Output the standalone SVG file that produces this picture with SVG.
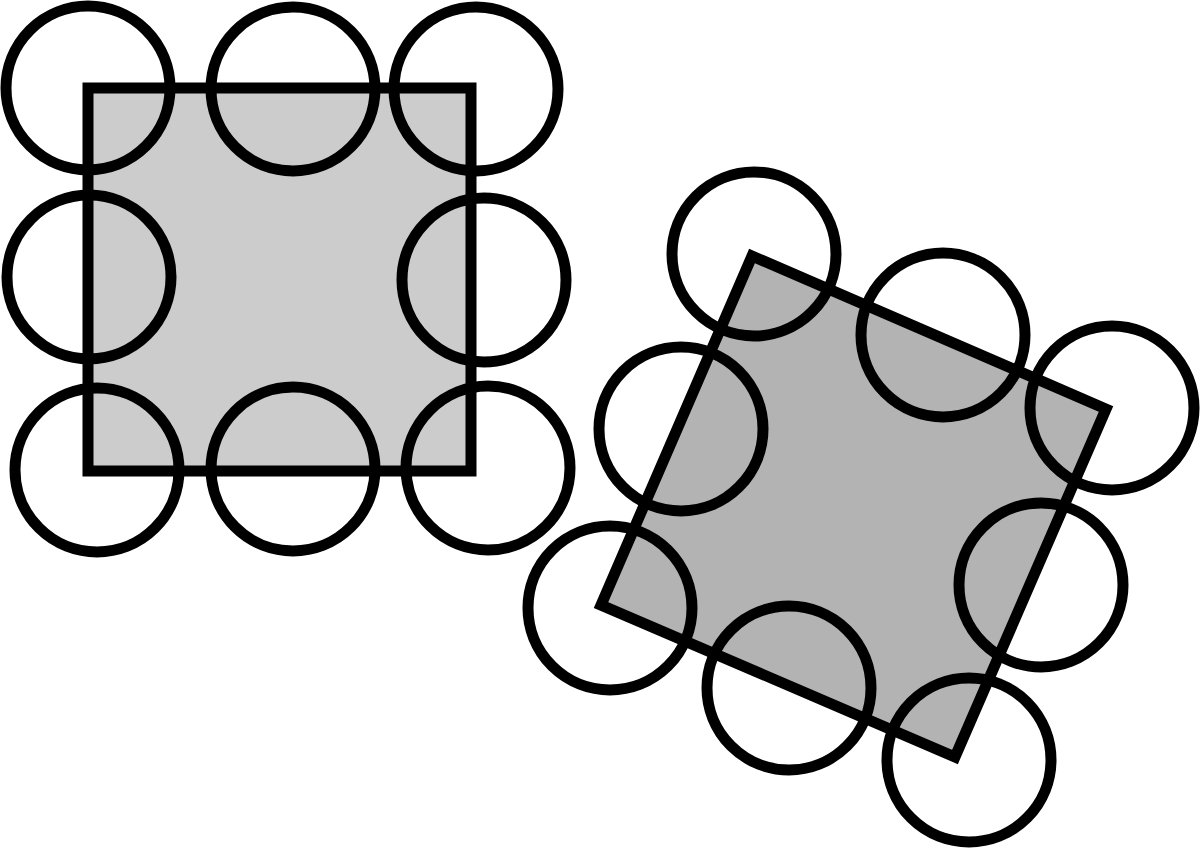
<svg xmlns="http://www.w3.org/2000/svg" width="1200" height="849" viewBox="0 0 1200 849">
<style>
.sq{stroke:#000;stroke-width:11;stroke-linejoin:miter}
.c{fill:none;stroke:#000;stroke-width:11}
</style>
<rect width="1200" height="849" fill="#fff"/>
<g id="left">
<rect class="sq" x="88" y="88" width="383" height="383" fill="#cccccc"/>
<circle class="c" cx="88" cy="88" r="82"/>
<circle class="c" cx="293" cy="89" r="82"/>
<circle class="c" cx="476" cy="89" r="82"/>
<circle class="c" cx="89" cy="277" r="82"/>
<circle class="c" cx="484" cy="280" r="82"/>
<circle class="c" cx="97" cy="470" r="82"/>
<circle class="c" cx="293" cy="469" r="82"/>
<circle class="c" cx="488" cy="468" r="82"/>
</g>
<g id="right">
<polygon class="sq" points="752,256 1106,409 955,757 601,605" fill="#b3b3b3"/>
<circle class="c" cx="754" cy="254" r="82"/>
<circle class="c" cx="943" cy="335" r="82"/>
<circle class="c" cx="1112" cy="408" r="82"/>
<circle class="c" cx="681" cy="429" r="82"/>
<circle class="c" cx="1041" cy="585" r="82"/>
<circle class="c" cx="610" cy="608" r="82"/>
<circle class="c" cx="789" cy="688" r="82"/>
<circle class="c" cx="969" cy="760" r="82"/>
</g>
</svg>
